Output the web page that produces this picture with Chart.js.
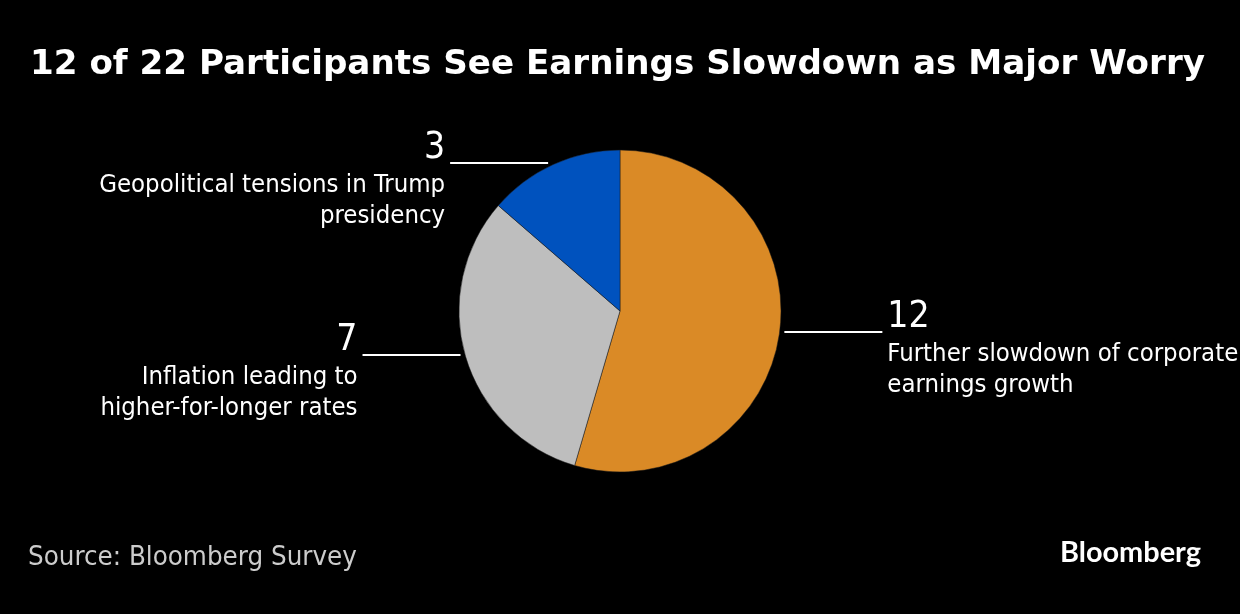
<!DOCTYPE html>
<html>
<head>
<meta charset="utf-8">
<script src="https://cdn.jsdelivr.net/npm/chart.js@4.4.1/dist/chart.umd.min.js"></script>
<style>
  html, body { margin: 0; padding: 0; background: #000; }
  #wrap { position: relative; width: 1240px; height: 614px; }
</style>
</head>
<body>
<div id="wrap"><canvas id="chart" width="1240" height="614"></canvas></div>
<script>
const title = '12 of 22 Participants See Earnings Slowdown as Major Worry';
const source = 'Source: Bloomberg Survey';
const categories = [
  'Further slowdown of corporate earnings growth',
  'Inflation leading to higher-for-longer rates',
  'Geopolitical tensions in Trump presidency'
];
// how each label wraps in the picture
const labelLines = [
  ['Further slowdown of corporate', 'earnings growth'],
  ['Inflation leading to', 'higher-for-longer rates'],
  ['Geopolitical tensions in Trump', 'presidency']
];
const counts = [12, 7, 3];
const sliceColors = ['#DA8A26', '#BEBEBE', '#0052BE'];

const FONT = '"DejaVu Sans Condensed", "DejaVu Sans", sans-serif';
const TITLE_FONT = '"DejaVu Sans", Verdana, sans-serif';
const LOGO_FONT = 'Lato, "Open Sans", sans-serif';

// pick a font size so the text hits a given width
function fitSize(ctx, text, weight, family, size, width) {
  ctx.font = `${weight} ${size}px ${family}`;
  const w = ctx.measureText(text).width;
  return size * width / w;
}

const calloutPlugin = {
  id: 'callouts',
  afterDraw(chart) {
    const ctx = chart.ctx;
    ctx.save();

    // title: bold at reference height, squeezed sideways to reference width
    ctx.font = `bold 34px ${TITLE_FONT}`;
    const tw = ctx.measureText(title).width;
    ctx.save();
    ctx.translate(30, 74);
    ctx.scale(1175 / tw, 1);
    ctx.fillStyle = '#ffffff';
    ctx.textAlign = 'left';
    ctx.textBaseline = 'alphabetic';
    ctx.fillText(title, 0, 0);
    ctx.restore();

    // source
    let s = fitSize(ctx, source, 'normal', FONT, 24, 329);
    ctx.font = `normal ${s}px ${FONT}`;
    ctx.fillStyle = '#cccccc';
    ctx.textAlign = 'left';
    ctx.textBaseline = 'alphabetic';
    ctx.fillText(source, 28, 565);

    // logo
    s = fitSize(ctx, 'Bloomberg', '700', LOGO_FONT, 26, 141);
    ctx.font = `700 ${s}px ${LOGO_FONT}`;
    ctx.fillStyle = '#ffffff';
    ctx.fillText('Bloomberg', 1060, 562);

    // slice callouts
    const labelSize = fitSize(ctx, labelLines[2][0], 'normal', FONT, 25, 346);
    const meta = chart.getDatasetMeta(0);
    meta.data.forEach((arc, i) => {
      const p = arc.getProps(['x', 'y', 'startAngle', 'endAngle', 'outerRadius'], true);
      const mid = (p.startAngle + p.endAngle) / 2;
      const px = p.x + Math.cos(mid) * p.outerRadius;
      const py = Math.round(p.y + Math.sin(mid) * p.outerRadius - 1.5);
      const dir = Math.cos(mid) >= 0 ? 1 : -1;
      const x0 = px + dir * 5;
      const x1 = px + dir * 103;

      ctx.strokeStyle = '#ffffff';
      ctx.lineWidth = 2;
      ctx.beginPath();
      ctx.moveTo(x0, py);
      ctx.lineTo(x1, py);
      ctx.stroke();

      const tx = x1 + dir * 5;
      ctx.textAlign = dir > 0 ? 'left' : 'right';
      ctx.fillStyle = '#ffffff';
      ctx.font = `normal 37px ${FONT}`;
      ctx.fillText(String(counts[i]), tx, py - 5);

      ctx.font = `normal ${labelSize}px ${FONT}`;
      labelLines[i].forEach((line, j) => {
        ctx.fillText(line, tx, py + 29 + j * 31);
      });
    });

    ctx.restore();
  }
};

new Chart(document.getElementById('chart'), {
  type: 'pie',
  data: {
    labels: categories,
    datasets: [{
      data: counts,
      backgroundColor: sliceColors,
      borderColor: '#1a1a1a',
      borderWidth: 0.5,
      radius: 161,
      hoverOffset: 0
    }]
  },
  options: {
    responsive: false,
    animation: false,
    events: [],
    layout: { padding: { top: 100, bottom: 92, left: 300, right: 300 } },
    plugins: {
      legend: { display: false },
      tooltip: { enabled: false },
      title: { display: false }
    }
  },
  plugins: [calloutPlugin]
});
</script>
</body>
</html>
